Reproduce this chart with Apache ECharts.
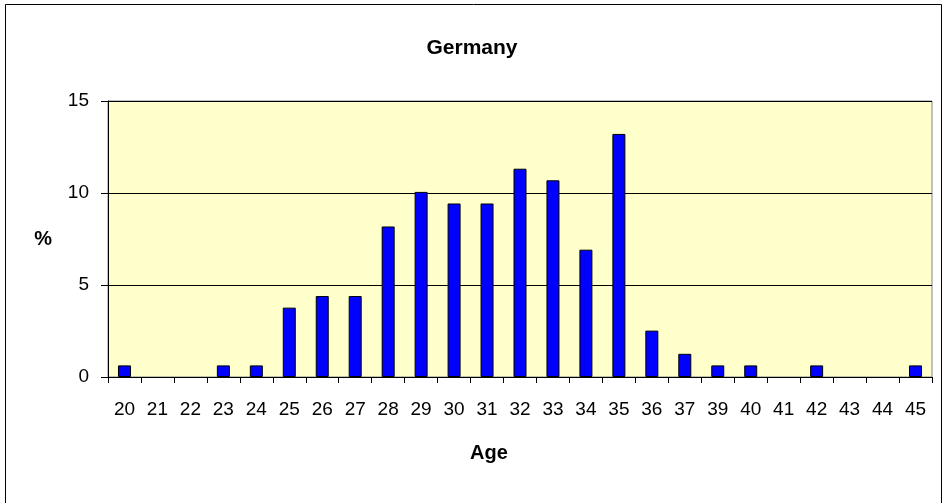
<!DOCTYPE html>
<html>
<head>
<meta charset="utf-8">
<title>Germany</title>
<script src="https://cdn.jsdelivr.net/npm/echarts@6/dist/echarts.min.js"></script>
<style>
    html, body { margin: 0; padding: 0; background: #fff; }
    #chart { width: 944px; height: 503px; }
</style>
</head>
<body>
<div id="chart"></div>
<script>
const ages = ['20', '21', '22', '23', '24', '25', '26', '27', '28', '29', '30', '31', '32',
    '33', '34', '35', '36', '37', '39', '40', '41', '42', '43', '44', '45'];
const percent = [0.63, 0, 0, 0.63, 0.63, 3.77, 4.4, 4.4, 8.18, 10.06, 9.43, 9.43, 11.32,
    10.69, 6.92, 13.21, 2.52, 1.26, 0.63, 0.63, 0, 0.63, 0, 0, 0.63];
const yTicks = { min: 0, max: 15, step: 5 };

const font = 'Arial, "Liberation Sans", sans-serif';
const chart = echarts.init(document.getElementById('chart'));

// zero-height bars would still show their border, so leave them empty
const barData = percent.map((v) => (v === 0 ? '-' : v));

chart.setOption({
    animation: false,
    title: {
        text: 'Germany',
        left: 'center',
        top: 33,
        textStyle: { fontFamily: font, fontSize: 21, fontWeight: 'bold', color: '#000' },
    },
    graphic: [{
        type: 'rect',
        shape: { x: 5.5, y: 4.5, width: 936, height: 500 },
        style: { fill: 'none', stroke: '#000', lineWidth: 1 },
        silent: true,
    }],
    grid: {
        left: 108,
        top: 101,
        right: 12,
        bottom: 126,
        show: true,
        backgroundColor: '#FFFFCC',
        borderColor: '#808080',
        borderWidth: 1,
    },
    xAxis: {
        type: 'category',
        data: ages,
        name: 'Age',
        nameLocation: 'middle',
        nameGap: 66,
        // the axis title sits left of the plot centre in the original
        nameTextStyle: {
            fontFamily: font, fontSize: 20, fontWeight: 'bold', color: '#000',
            padding: [0, 62, 0, 0],
        },
        axisLine: { lineStyle: { color: '#000', width: 1 } },
        axisTick: { show: true, interval: 0, length: 6, lineStyle: { color: '#000' } },
        axisLabel: { interval: 0, margin: 23, fontFamily: font, fontSize: 19, color: '#000' },
    },
    yAxis: {
        type: 'value',
        min: yTicks.min,
        max: yTicks.max,
        interval: yTicks.step,
        name: '%',
        nameLocation: 'middle',
        nameRotate: 0,
        nameGap: 56,
        nameTextStyle: { fontFamily: font, fontSize: 20, fontWeight: 'bold', color: '#000' },
        axisLine: { show: true, lineStyle: { color: '#000', width: 1 } },
        axisTick: { show: true, length: 7, lineStyle: { color: '#000' } },
        axisLabel: { margin: 19, fontFamily: font, fontSize: 19, color: '#000' },
        splitLine: { show: true, lineStyle: { color: '#000', width: 1 } },
    },
    series: [{
        type: 'bar',
        data: barData,
        barWidth: 13,
        itemStyle: { color: '#0000FF', borderColor: '#000', borderWidth: 1 },
    }],
});
</script>
</body>
</html>
